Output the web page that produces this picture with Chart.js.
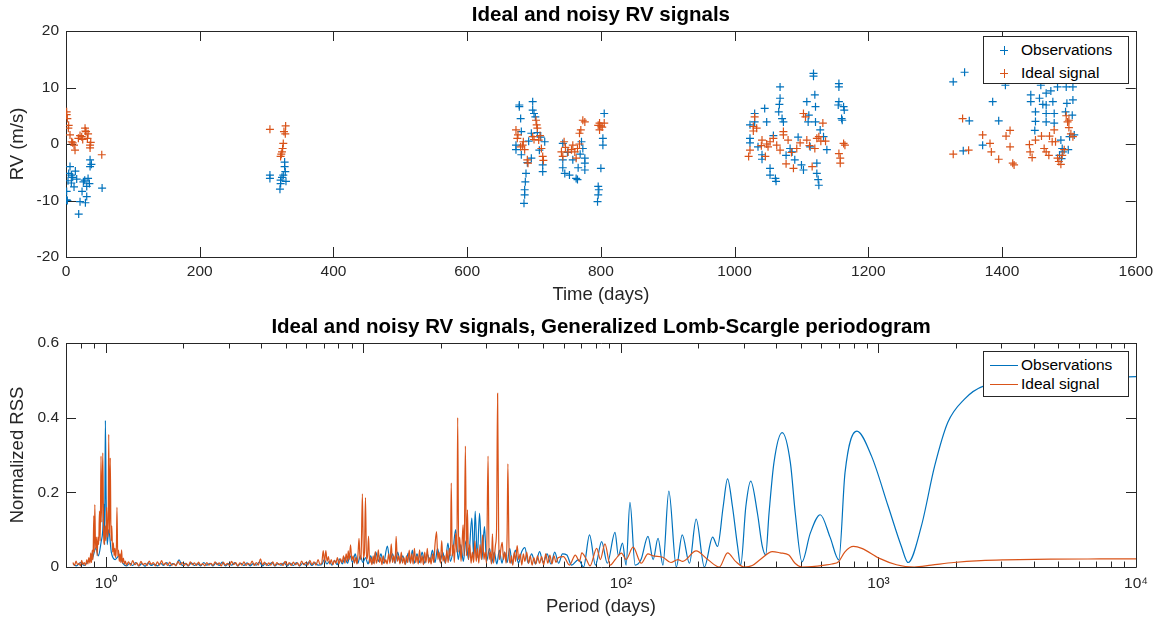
<!DOCTYPE html>
<html>
<head>
<meta charset="utf-8">
<script src="https://cdn.jsdelivr.net/npm/chart.js@4.4.1/dist/chart.umd.min.js"></script>
<style>
  body { margin: 0; background: #fff; font-family: "Liberation Sans", Arial, sans-serif; }
  #wrap { position: relative; width: 1158px; height: 624px; }
  canvas { position: absolute; left: 0; }
  .legend { position: absolute; background: #fff; border: 1px solid #262626; box-sizing: border-box; }
  .row { position: absolute; left: 0; font-size: 15.5px; color: #000; white-space: nowrap; }
  .row span { position: absolute; left: 37px; top: -9px; }
  .mk-h, .mk-v, .ln { position: absolute; }
</style>
</head>
<body>
<div id="wrap">
  <canvas id="rvChart" width="1158" height="312" style="top:0"></canvas>
  <canvas id="glsChart" width="1158" height="312" style="top:312px"></canvas>

  <div class="legend" style="left:983px; top:36px; width:146px; height:48px;">
    <div class="row" style="top:13px">
      <div class="mk-h" style="left:16px; top:0; width:8px; height:1px; background:#0072BD"></div>
      <div class="mk-v" style="left:20px; top:-4px; width:1px; height:9px; background:#0072BD"></div>
      <span>Observations</span>
    </div>
    <div class="row" style="top:36px">
      <div class="mk-h" style="left:16px; top:0; width:8px; height:1px; background:#D95319"></div>
      <div class="mk-v" style="left:20px; top:-4px; width:1px; height:9px; background:#D95319"></div>
      <span>Ideal signal</span>
    </div>
  </div>

  <div class="legend" style="left:983px; top:351px; width:146px; height:46px;">
    <div class="row" style="top:13px">
      <div class="ln" style="left:6px; top:0; width:28px; height:1.2px; background:#0072BD"></div>
      <span>Observations</span>
    </div>
    <div class="row" style="top:32px">
      <div class="ln" style="left:6px; top:0; width:28px; height:1.2px; background:#D95319"></div>
      <span>Ideal signal</span>
    </div>
  </div>
</div>

<script>
// ================= DATA =================
const seriesNames = ['Observations', 'Ideal signal'];
const seriesColors = ['#0072BD', '#D95319'];

// top panel: [time (days), RV (m/s)]
const obsPoints = [
  [1,-8.4],[1,-9.9],[2,-10.0],[3,-6.5],[4,-5.2],[6,-4.0],[8,-5.5],[8,-6.9],[10,-5.9],[12,-7.6],[14,-4.8],[16,-6.2],
  [19,-12.4],[21,-10.2],[24,-8.4],[26,-6.7],[28,-6.4],[29,-10.4],[31,-7.5],[31,-9.3],[33,-6.1],[35,-7.0],[36,-2.8],[36,-4.0],[38,-3.6],[54,-7.8],
  [305,-5.5],[305,-6.1],[320,-8.0],[321,-6.4],[321,-7.0],[323,-5.9],[325,-5.5],[327,-4.0],[327,-3.2],[328,-4.9],[329,-6.6],
  [673,-0.2],[673,-1.0],[678,6.9],[678,6.6],[680,4.5],[681,2.2],[681,-1.9],[685,-10.5],[686,-8.1],[686,-9.0],[687,-6.7],[688,-5.2],
  [690,-3.3],[692,0.5],[696,1.9],[696,-2.5],[698,7.5],[698,6.0],[700,5.4],[702,4.8],[705,2.0],[708,-1.1],[710,1.2],[713,-3.7],[713,-4.9],[716,0.4],
  [743,0.1],[743,-2.8],[743,-4.2],[746,-5.2],[750,-1.5],[753,-5.5],[758,-2.8],[763,-6.1],[765,-6.3],[766,-4.2],[769,-1.8],[771,0.4],[773,-0.8],
  [776,-2.5],[776,-3.4],[776,-4.6],
  [795,-10.2],[796,-7.5],[796,-9.0],[797,-8.1],[800,-4.3],[803,1.0],[803,-0.2],[805,5.4],
  [1023,3.4],[1023,1.0],[1023,0.2],[1030,5.4],[1030,3.9],[1035,-0.5],[1041,-1.9],[1041,-2.7],[1045,6.3],[1048,3.9],[1053,-4.3],[1053,-5.5],
  [1058,1.5],[1061,-6.1],[1062,-6.6],[1066,5.7],[1067,7.0],[1068,10.1],[1068,8.1],[1071,4.5],[1073,3.9],[1077,-2.0],[1083,-0.8],[1086,-1.4],
  [1090,-2.8],[1095,1.2],[1100,-3.7],[1103,-4.6],[1108,7.5],[1110,3.9],[1111,5.1],[1113,-0.5],[1118,12.5],[1118,12.0],[1120,8.7],[1121,6.6],
  [1121,3.9],[1123,-3.4],[1123,-5.2],[1125,-6.3],[1126,-7.3],[1128,2.5],[1133,1.3],[1138,-1.0],[1155,6.9],[1156,10.7],[1156,10.1],[1156,7.5],
  [1160,4.5],[1161,4.2],[1163,6.6],[1164,6.0],
  [1327,11.0],[1342,-1.2],[1344,12.7],[1351,4.1],[1371,-0.2],[1386,7.5],[1395,4.1],[1405,10.4],[1443,8.7],[1443,7.5],[1449,2.4],[1450,5.7],
  [1450,4.0],[1456,8.1],[1458,10.4],[1461,7.0],[1466,9.0],[1466,6.9],[1466,5.4],[1466,3.9],[1473,9.4],[1476,7.5],[1478,5.4],[1478,3.7],
  [1483,10.1],[1486,-2.0],[1488,0.7],[1489,-2.6],[1490,-0.8],[1491,-1.4],[1495,5.7],[1496,10.1],[1497,7.2],[1499,-1.0],[1501,1.3],[1505,5.1],
  [1506,10.1],[1506,7.8],[1508,1.6]
];
const idealPoints = [
  [1,5.7],[1,5.2],[2,4.5],[3.5,2.8],[4,3.3],[6,1.6],[8.5,0.4],[10,0.2],[12,-0.2],[13.5,-1.1],[18.5,1.0],[21,1.5],[23.5,1.3],[25,0.8],
  [28.5,2.8],[29,2.3],[30,2.2],[32,1.0],[33,1.8],[36,-0.2],[36,-0.7],[37,0.3],[53.5,-1.9],
  [305,2.6],[321,-2.2],[322,-1.8],[323,-1.4],[324,-0.8],[325,0.1],[326,2.2],[328,1.8],[328.5,3.2],
  [673,2.5],[675,1.0],[676,1.6],[680,-0.5],[683,-0.2],[684,0.4],[686,-1.0],[690,-2.8],[691,-3.4],[698,1.3],[700,0.8],[703,4.2],[704,3.4],
  [705,2.8],[707,0.7],[709,1.5],[711,-0.8],[713,-2.2],[714,-2.9],
  [741,-1.4],[743,-2.2],[745,0.4],[747,-0.6],[751,-1.4],[756,-1.0],[758,-0.2],[761,-1.4],[763,-2.5],[765,-0.8],[768,0.0],[768,1.9],[770,2.5],
  [773,4.2],[776,3.9],
  [796,3.3],[798,3.7],[798,2.5],[800,3.2],[802,3.0],[805,3.7],
  [1021,-2.2],[1023,-1.1],[1028,3.1],[1028,2.3],[1030,4.8],[1033,2.8],[1040,-0.3],[1041,0.7],[1046,-2.2],[1048,0.0],[1050,-0.5],[1053,0.4],
  [1058,1.0],[1063,-0.2],[1068,-1.1],[1073,2.2],[1073,1.6],[1077,-3.5],[1080,0.7],[1085,-1.5],[1088,-4.3],[1093,-0.8],[1098,0.2],[1103,5.4],
  [1106,4.8],[1108,0.7],[1112,-0.3],[1116,-4.0],[1120,-0.8],[1123,1.0],[1126,1.3],[1129,0.5],[1132,3.7],[1136,0.5],[1156,-1.7],[1158,-2.5],
  [1158,-3.4],[1163,0.1],[1165,-0.2],
  [1327,-1.8],[1341,4.5],[1350,-1.1],[1371,1.6],[1382,0.1],[1384,-1.4],[1395,-2.7],[1406,1.4],[1412,2.4],[1412,-0.5],[1416,-3.4],[1418,-3.7],
  [1441,-0.1],[1442,-1.4],[1445,-2.4],[1450,0.7],[1459,1.4],[1463,-0.8],[1466,-1.4],[1470,-2.0],[1471,1.4],[1475,0.4],[1478,2.5],[1480,0.4],
  [1483,-2.5],[1485,-3.1],[1488,-3.6],[1490,-2.0],[1493,-1.0],[1496,5.0],[1498,3.9],[1500,2.9],[1500,4.2],[1503,1.8],[1506,1.3]
];

// bottom panel: [log10 period (days), normalized RSS]
const obsPgram = [
  [-0.128,0.008],[-0.114,0.003],[-0.099,0.012],[-0.084,0.004],[-0.069,0.015],[-0.054,0.020],[-0.039,0.050],[-0.029,0.030],
  [-0.019,0.065],[-0.012,0.100],[-0.008,0.170],[-0.005,0.060],[-0.002,0.393],[0.001,0.180],[0.005,0.060],[0.011,0.100],
  [0.021,0.040],[0.036,0.020],[0.051,0.030],[0.066,0.010],
  [0.080,0.003],[0.092,0.010],[0.104,0.004],[0.116,0.012],[0.128,0.003],[0.140,0.009],[0.152,0.002],[0.164,0.011],[0.176,0.004],
  [0.188,0.008],[0.200,0.003],[0.212,0.010],[0.224,0.004],[0.236,0.012],[0.248,0.003],[0.260,0.009],[0.272,0.005],[0.284,0.019],
  [0.296,0.004],[0.308,0.010],[0.320,0.003],[0.332,0.011],[0.344,0.004],[0.356,0.009],[0.368,0.003],[0.380,0.012],[0.392,0.005],
  [0.404,0.010],[0.416,0.003],[0.428,0.011],[0.440,0.004],[0.452,0.013],[0.464,0.003],[0.476,0.009],[0.488,0.005],[0.500,0.012],
  [0.512,0.003],[0.524,0.010],[0.536,0.004],[0.548,0.011],[0.560,0.003],[0.572,0.009],[0.584,0.005],[0.596,0.013],[0.608,0.003],
  [0.620,0.010],[0.632,0.004],[0.644,0.012],[0.656,0.003],[0.668,0.009],[0.680,0.005],[0.692,0.011],[0.704,0.003],[0.716,0.010],
  [0.728,0.004],[0.740,0.012],[0.752,0.003],[0.764,0.010],[0.776,0.005],[0.788,0.013],[0.800,0.004],[0.812,0.011],[0.824,0.005],
  [0.838,0.006],[0.848,0.020],[0.858,0.008],[0.868,0.015],[0.878,0.005],[0.888,0.018],[0.898,0.006],[0.908,0.022],[0.918,0.008],
  [0.928,0.025],[0.938,0.010],[0.948,0.030],[0.958,0.012],[0.968,0.035],[0.978,0.010],[0.988,0.030],[0.998,0.012],[1.008,0.025],
  [1.018,0.008],[1.028,0.030],[1.038,0.010],[1.048,0.040],[1.058,0.015],[1.068,0.035],[1.078,0.010],[1.093,0.056],[1.103,0.015],
  [1.113,0.035],[1.123,0.010],[1.133,0.040],[1.143,0.012],[1.153,0.030],[1.163,0.008],[1.174,0.037],[1.182,0.012],[1.190,0.045],
  [1.198,0.010],[1.208,0.035],[1.218,0.012],[1.228,0.040],[1.238,0.010],[1.248,0.035],[1.258,0.015],[1.268,0.045],[1.278,0.012],
  [1.288,0.050],[1.298,0.015],[1.308,0.040],[1.318,0.010],[1.328,0.064],[1.338,0.015],[1.348,0.045],[1.358,0.100],[1.368,0.020],
  [1.378,0.060],[1.388,0.015],[1.398,0.070],[1.408,0.020],[1.421,0.131],[1.428,0.030],[1.434,0.149],[1.442,0.025],[1.451,0.144],
  [1.460,0.020],[1.470,0.108],[1.478,0.015],[1.490,0.050],[1.498,0.010],[1.508,0.040],[1.518,0.008],[1.528,0.045],[1.538,0.010],
  [1.548,0.040],[1.558,0.012],[1.568,0.050],[1.578,0.008],[1.590,0.045],[1.602,0.010],[1.614,0.040],[1.627,0.052],[1.640,0.010],
  [1.653,0.035],[1.668,0.008],[1.684,0.041],[1.698,0.012],[1.713,0.035],[1.728,0.008],[1.743,0.040],[1.758,0.010],[1.773,0.035],
  [1.790,0.032],[1.808,0.005],[1.835,0.020],[1.855,0.000],[1.878,0.086],[1.901,0.005],[1.925,0.068],[1.947,0.010],[1.977,0.093],
  [1.990,0.030],[2.006,0.064],[2.020,0.005],[2.035,0.173],[2.055,0.005],[2.078,0.020],[2.105,0.082],[2.125,0.020],[2.144,0.077],
  [2.163,0.005],[2.186,0.203],[2.215,0.000],[2.238,0.086],[2.266,0.010],[2.292,0.128],[2.324,0.000],[2.356,0.080],[2.375,0.055],
  [2.397,0.162],[2.414,0.236],[2.433,0.162],[2.453,0.055],[2.465,0.005],[2.485,0.162],[2.504,0.230],[2.530,0.144],[2.549,0.055],
  [2.562,0.032],[2.575,0.144],[2.594,0.279],[2.626,0.360],[2.658,0.279],[2.677,0.144],[2.703,0.014],[2.735,0.090],[2.774,0.140],
  [2.812,0.080],[2.846,0.019],[2.870,0.252],[2.916,0.364],[2.973,0.297],[3.038,0.162],[3.089,0.055],[3.115,0.012],[3.166,0.108],
  [3.218,0.270],[3.269,0.387],[3.333,0.449],[3.410,0.485],[3.591,0.500],[3.784,0.507],[4.000,0.510]
];
const idealPgram = [
  [-0.128,0.012],[-0.122,0.004],[-0.116,0.016],[-0.110,0.006],[-0.104,0.010],[-0.099,0.003],[-0.094,0.018],[-0.089,0.007],
  [-0.084,0.012],[-0.079,0.004],[-0.074,0.020],[-0.070,0.008],[-0.066,0.025],[-0.062,0.010],[-0.059,0.037],[-0.056,0.012],
  [-0.053,0.045],[-0.050,0.020],[-0.047,0.137],[-0.045,0.040],[-0.043,0.167],[-0.040,0.050],[-0.037,0.080],[-0.034,0.030],
  [-0.031,0.080],[-0.028,0.060],[-0.025,0.150],[-0.022,0.070],[-0.019,0.297],[-0.016,0.120],[-0.012,0.306],[-0.009,0.100],
  [-0.006,0.060],[-0.003,0.110],[0.000,0.070],[0.003,0.160],[0.006,0.080],[0.009,0.120],[0.011,0.355],[0.014,0.090],
  [0.017,0.292],[0.020,0.070],[0.023,0.110],[0.026,0.040],[0.029,0.065],[0.032,0.030],[0.035,0.050],[0.038,0.025],
  [0.041,0.060],[0.043,0.160],[0.046,0.030],[0.049,0.045],[0.052,0.015],[0.055,0.035],[0.058,0.012],[0.061,0.046],
  [0.064,0.010],[0.068,0.024],[0.072,0.008],[0.076,0.016],
  [0.080,0.005],[0.088,0.014],[0.096,0.004],[0.104,0.017],[0.112,0.006],[0.120,0.011],[0.128,0.003],[0.136,0.015],[0.144,0.006],
  [0.152,0.010],[0.160,0.004],[0.168,0.016],[0.176,0.007],[0.184,0.012],[0.192,0.003],[0.200,0.014],[0.208,0.005],[0.216,0.017],
  [0.224,0.006],[0.232,0.011],[0.240,0.004],[0.248,0.013],[0.256,0.005],[0.264,0.009],[0.272,0.003],[0.280,0.015],[0.288,0.006],
  [0.296,0.012],[0.304,0.004],[0.312,0.010],[0.320,0.003],[0.328,0.014],[0.336,0.006],[0.344,0.011],[0.352,0.004],[0.360,0.013],
  [0.368,0.005],[0.376,0.009],[0.384,0.003],[0.392,0.012],[0.400,0.005],[0.408,0.010],[0.416,0.004],[0.424,0.014],[0.432,0.006],
  [0.440,0.011],[0.448,0.003],[0.456,0.013],[0.464,0.005],[0.472,0.010],[0.480,0.004],[0.488,0.015],[0.496,0.006],[0.504,0.012],
  [0.512,0.003],[0.520,0.011],[0.528,0.005],[0.536,0.014],[0.544,0.004],[0.552,0.010],[0.560,0.006],[0.568,0.016],[0.576,0.004],
  [0.584,0.012],[0.592,0.005],[0.600,0.022],[0.608,0.006],[0.616,0.013],[0.624,0.004],[0.632,0.011],[0.640,0.005],[0.648,0.014],
  [0.656,0.003],[0.664,0.012],[0.672,0.006],[0.680,0.010],[0.688,0.004],[0.696,0.015],[0.704,0.005],[0.712,0.012],[0.720,0.004],
  [0.728,0.013],[0.736,0.006],[0.744,0.011],[0.752,0.003],[0.760,0.016],[0.768,0.006],[0.776,0.012],[0.784,0.005],[0.792,0.018],
  [0.800,0.006],[0.808,0.014],[0.816,0.005],[0.824,0.020],[0.831,0.007],
  [0.838,0.010],[0.844,0.044],[0.849,0.012],[0.854,0.044],[0.859,0.015],[0.864,0.028],[0.869,0.008],[0.875,0.020],[0.881,0.006],
  [0.887,0.018],[0.893,0.010],[0.899,0.025],[0.905,0.008],[0.911,0.022],[0.917,0.012],[0.923,0.030],[0.928,0.010],[0.933,0.035],
  [0.938,0.015],[0.941,0.043],[0.945,0.020],[0.950,0.059],[0.955,0.018],[0.960,0.030],[0.965,0.010],[0.970,0.025],[0.975,0.008],
  [0.979,0.035],[0.983,0.077],[0.987,0.020],[0.991,0.030],[0.996,0.196],[1.000,0.025],[1.004,0.040],[1.008,0.186],[1.012,0.020],
  [1.016,0.030],[1.020,0.083],[1.024,0.010],[1.028,0.025],[1.033,0.006],[1.038,0.030],[1.042,0.008],[1.046,0.041],[1.050,0.010],
  [1.054,0.020],[1.058,0.046],[1.062,0.012],[1.067,0.025],[1.072,0.006],[1.077,0.030],[1.082,0.010],[1.087,0.020],[1.092,0.008],
  [1.098,0.035],[1.103,0.010],[1.108,0.062],[1.113,0.012],[1.118,0.030],[1.123,0.010],[1.127,0.082],[1.132,0.015],[1.137,0.030],
  [1.142,0.008],[1.147,0.040],[1.152,0.010],[1.157,0.025],[1.162,0.006],[1.167,0.030],[1.172,0.012],[1.178,0.045],[1.183,0.010],
  [1.188,0.035],[1.193,0.008],[1.198,0.050],[1.203,0.012],[1.208,0.030],[1.213,0.008],[1.218,0.046],[1.223,0.010],[1.228,0.030],
  [1.233,0.006],[1.238,0.040],[1.243,0.012],[1.248,0.050],[1.253,0.010],[1.258,0.025],[1.263,0.008],[1.268,0.035],[1.273,0.012],
  [1.278,0.060],[1.284,0.095],[1.289,0.020],[1.294,0.040],[1.299,0.010],[1.304,0.071],[1.309,0.015],[1.314,0.030],[1.319,0.010],
  [1.324,0.045],[1.329,0.012],[1.334,0.050],[1.338,0.030],[1.341,0.225],[1.345,0.030],[1.349,0.060],[1.353,0.012],[1.358,0.090],
  [1.363,0.040],[1.366,0.400],[1.370,0.040],[1.374,0.080],[1.379,0.015],[1.383,0.060],[1.387,0.113],[1.391,0.030],[1.396,0.324],
  [1.400,0.030],[1.404,0.153],[1.408,0.020],[1.413,0.060],[1.418,0.010],[1.423,0.040],[1.428,0.012],[1.433,0.070],[1.438,0.015],
  [1.443,0.050],[1.448,0.010],[1.453,0.060],[1.458,0.020],[1.463,0.086],[1.468,0.020],[1.473,0.040],[1.478,0.010],[1.484,0.297],
  [1.488,0.020],[1.493,0.040],[1.497,0.008],[1.501,0.089],[1.505,0.010],[1.509,0.030],[1.513,0.060],[1.517,0.100],[1.521,0.465],
  [1.525,0.100],[1.529,0.020],[1.534,0.050],[1.539,0.066],[1.544,0.020],[1.549,0.040],[1.554,0.010],[1.558,0.090],[1.561,0.276],
  [1.565,0.060],[1.570,0.010],[1.575,0.030],[1.580,0.005],[1.586,0.040],[1.591,0.015],[1.597,0.057],[1.603,0.020],[1.609,0.035],
  [1.615,0.005],[1.621,0.035],[1.627,0.015],[1.634,0.040],[1.641,0.010],[1.648,0.030],[1.655,0.005],[1.662,0.025],[1.669,0.008],
  [1.676,0.030],[1.684,0.010],[1.692,0.028],[1.700,0.006],[1.708,0.035],[1.716,0.010],[1.724,0.032],[1.732,0.008],[1.740,0.030],
  [1.748,0.012],[1.756,0.025],[1.777,0.028],[1.800,0.005],[1.823,0.032],[1.839,0.015],[1.848,0.038],[1.866,0.020],[1.880,0.003],
  [1.906,0.050],[1.920,0.020],[1.938,0.062],[1.958,0.005],[1.978,0.020],[2.002,0.037],[2.020,0.020],[2.047,0.053],[2.079,0.010],
  [2.105,0.035],[2.125,0.030],[2.163,0.026],[2.194,0.012],[2.221,0.020],[2.240,0.015],[2.292,0.043],[2.337,0.020],[2.382,0.000],
  [2.414,0.038],[2.445,0.015],[2.478,0.000],[2.510,0.004],[2.541,0.020],[2.588,0.041],[2.618,0.038],[2.652,0.032],[2.676,0.010],
  [2.703,0.000],[2.742,0.001],[2.792,0.005],[2.819,0.008],[2.845,0.014],[2.869,0.040],[2.903,0.055],[2.935,0.050],[3.004,0.023],
  [3.070,0.006],[3.139,0.000],[3.205,0.005],[3.293,0.012],[3.398,0.017],[3.487,0.019],[3.668,0.021],[3.861,0.0215],[4.000,0.0215]
];

const timeTicks = [0, 200, 400, 600, 800, 1000, 1200, 1400, 1600];
const rvTicks = [-20, -10, 0, 10, 20];
const periodTicks = [1, 10, 100, 1000, 10000];
const rssTicks = [0, 0.2, 0.4, 0.6];
const supDigits = ['\u2070', '\u00B9', '\u00B2', '\u00B3', '\u2074'];

// ================= STYLE =================
Chart.defaults.font.family = '"Liberation Sans", Arial, sans-serif';
Chart.defaults.color = '#262626';
const axisColor = '#262626';

// box + inward tick marks, MATLAB style
const frame = {
    id: 'frame',
    beforeDatasetsDraw(chart) {
        const { ctx, chartArea: a } = chart;
        const xs = chart.scales.x, ys = chart.scales.y;
        ctx.save();
        ctx.strokeStyle = axisColor;
        ctx.lineWidth = 1;
        ctx.beginPath();
        const tick = (px, len) => {
            px = Math.round(px) + 0.5;
            ctx.moveTo(px, a.bottom); ctx.lineTo(px, a.bottom - len);
            ctx.moveTo(px, a.top); ctx.lineTo(px, a.top + len);
        };
        if (xs.type === 'logarithmic') {
            for (let k = -1; k <= 3; k++) {
                for (let m = 1; m <= 9; m++) {
                    const v = m * Math.pow(10, k);
                    if (v < xs.min || v > xs.max) continue;
                    tick(xs.getPixelForValue(v), m === 1 ? 10 : 5.5);
                }
            }
            tick(xs.getPixelForValue(10000), 10);
        } else {
            xs.ticks.forEach(t => tick(xs.getPixelForValue(t.value), 10));
        }
        ys.ticks.forEach(t => {
            const py = Math.round(ys.getPixelForValue(t.value)) + 0.5;
            ctx.moveTo(a.left, py); ctx.lineTo(a.left + 10, py);
            ctx.moveTo(a.right, py); ctx.lineTo(a.right - 10, py);
        });
        ctx.rect(Math.round(a.left) + 0.5, Math.round(a.top) + 0.5,
                 Math.round(a.right - a.left), Math.round(a.bottom - a.top));
        ctx.stroke();
        ctx.restore();
    }
};

const tickFont = { size: 15.5 };
const labelFont = { size: 18.5, lineHeight: 1.2 };
const titleFont = { size: 20.5, weight: 'bold', lineHeight: 1.2 };

function baseOptions(titleText) {
    return {
        responsive: false,
        animation: false,
        layout: { padding: { top: 2.7, right: 22, left: 0, bottom: 0 } },
        plugins: {
            legend: { display: false },
            tooltip: { enabled: false },
            title: {
                display: true, text: titleText, color: '#000', font: titleFont,
                fullSize: false, padding: { top: 0, bottom: 3.7 }
            }
        }
    };
}

// ================= TOP: RV SIGNALS =================
const topOpts = baseOptions('Ideal and noisy RV signals');
topOpts.scales = {
    x: {
        type: 'linear', min: 0, max: 1600,
        afterBuildTicks: s => { s.ticks = timeTicks.map(v => ({ value: v })); },
        ticks: { font: tickFont, padding: 5, maxRotation: 0, autoSkip: false, callback: v => String(v) },
        grid: { display: false, drawTicks: false },
        border: { display: false },
        title: { display: true, text: 'Time (days)', font: labelFont, color: '#262626', padding: { top: 0, bottom: 5.9 } },
        afterFit: s => { s.height = 55; }
    },
    y: {
        min: -20, max: 20,
        afterBuildTicks: s => { s.ticks = rvTicks.map(v => ({ value: v })); },
        ticks: { font: tickFont, padding: 7, callback: v => String(v) },
        grid: { display: false, drawTicks: false },
        border: { display: false },
        title: { display: true, text: 'RV (m/s)', font: labelFont, color: '#262626', padding: { top: 6.9, bottom: 0 } },
        afterFit: s => { s.width = 66; }
    }
};

new Chart(document.getElementById('rvChart'), {
    type: 'scatter',
    data: {
        datasets: [obsPoints, idealPoints].map((pts, i) => ({
            label: seriesNames[i],
            data: pts.map(([x, y]) => ({ x, y })),
            pointStyle: 'cross',
            pointRadius: 4,
            borderColor: seriesColors[i],
            backgroundColor: seriesColors[i],
            borderWidth: 1.2,
            order: 1 - i
        }))
    },
    options: topOpts,
    plugins: [frame]
});

// ================= BOTTOM: GLS PERIODOGRAM =================
const botOpts = baseOptions('Ideal and noisy RV signals, Generalized Lomb-Scargle periodogram');
botOpts.scales = {
    x: {
        type: 'logarithmic', min: Math.pow(10, -0.1285), max: 10000,
        afterBuildTicks: s => { s.ticks = periodTicks.map(v => ({ value: v })); },
        ticks: {
            font: tickFont, padding: 7.5, maxRotation: 0, autoSkip: false,
            callback: v => '10' + supDigits[Math.round(Math.log10(v))]
        },
        grid: { display: false, drawTicks: false },
        border: { display: false },
        title: { display: true, text: 'Period (days)', font: labelFont, color: '#262626', padding: { top: 0, bottom: 5.9 } },
        afterFit: s => { s.height = 57; }
    },
    y: {
        min: 0, max: 0.6,
        afterBuildTicks: s => { s.ticks = rssTicks.map(v => ({ value: v })); },
        ticks: { font: tickFont, padding: 7 },
        grid: { display: false, drawTicks: false },
        border: { display: false },
        title: { display: true, text: 'Normalized RSS', font: labelFont, color: '#262626', padding: { top: 6.9, bottom: 0 } },
        afterFit: s => { s.width = 66; }
    }
};

new Chart(document.getElementById('glsChart'), {
    type: 'line',
    data: {
        datasets: [obsPgram, idealPgram].map((pts, i) => ({
            label: seriesNames[i],
            data: pts.map(([lp, v]) => ({ x: Math.pow(10, lp), y: v })),
            borderColor: seriesColors[i],
            borderWidth: 1.2,
            pointRadius: 0,
            cubicInterpolationMode: 'monotone',
            fill: false,
            order: 1 - i
        }))
    },
    options: botOpts,
    plugins: [frame]
});
</script>
</body>
</html>
